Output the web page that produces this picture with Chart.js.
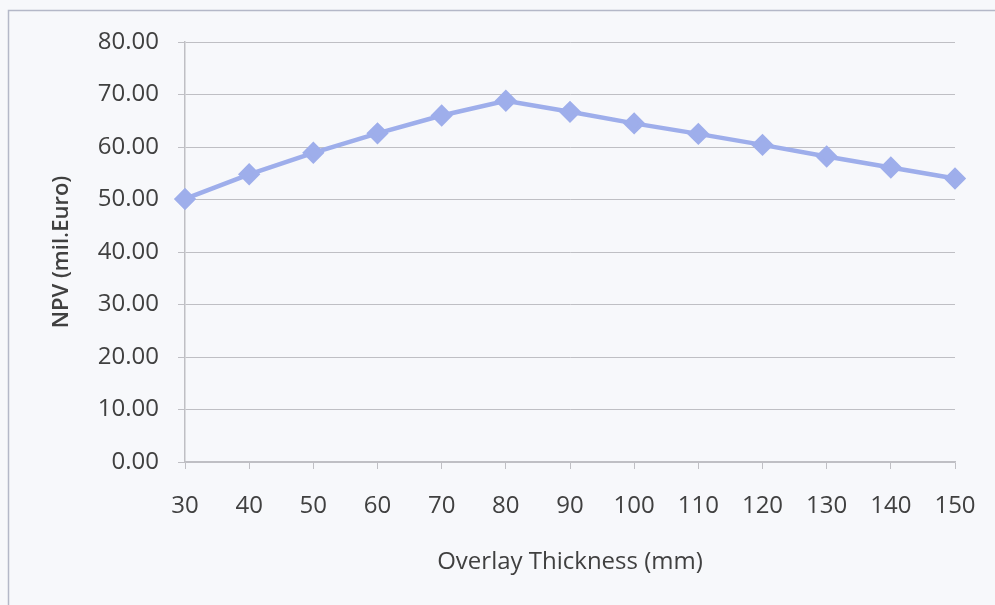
<!DOCTYPE html>
<html>
<head>
<meta charset="utf-8">
<script src="https://cdn.jsdelivr.net/npm/chart.js@4/dist/chart.umd.min.js"></script>
<style>
  html, body { margin: 0; padding: 0; background: #f7f8fb; }
  #wrap { width: 995px; height: 605px; }
</style>
</head>
<body>
<div id="wrap"><canvas id="npvChart" width="995" height="605"></canvas></div>
<script>
// overlay thickness (mm) and NPV (mil.Euro)
var thickness = ['30', '40', '50', '60', '70', '80', '90', '100', '110', '120', '130', '140', '150'];
var npv = [50.1, 54.8, 58.9, 62.6, 66.0, 68.8, 66.7, 64.5, 62.5, 60.4, 58.2, 56.1, 54.0];
var yTicks = [0, 10, 20, 30, 40, 50, 60, 70, 80];

var textColor = '#404040';
var gridColor = '#bfbfc4';
var fontFamily = "'Open Sans', 'Liberation Sans', sans-serif";

// paper background + light frame like the scanned sheet
var paperFrame = {
  id: 'paperFrame',
  beforeDraw: function(chart) {
    var ctx = chart.ctx;
    ctx.save();
    ctx.fillStyle = '#f7f8fb';
    ctx.fillRect(0, 0, chart.width, chart.height);
    ctx.strokeStyle = '#b4b8c8';
    ctx.lineWidth = 1.5;
    ctx.strokeRect(8.5, 10.5, chart.width + 20, chart.height + 20);
    ctx.restore();
  }
};

new Chart(document.getElementById('npvChart'), {
  type: 'line',
  data: {
    labels: thickness,
    datasets: [{
      label: 'NPV',
      data: npv,
      borderColor: '#9eaeeb',
      backgroundColor: '#9eaeeb',
      borderWidth: 4.5,
      pointStyle: 'rectRot',
      pointRadius: 8,
      pointHoverRadius: 8,
      tension: 0
    }]
  },
  options: {
    responsive: false,
    animation: false,
    layout: { padding: { left: 40, right: 40, top: 42, bottom: 20 } },
    plugins: {
      legend: { display: false },
      tooltip: { enabled: false }
    },
    scales: {
      x: {
        offset: false,
        grid: { drawOnChartArea: false, color: gridColor, tickLength: 7, tickColor: gridColor },
        border: { color: gridColor, width: 1.5 },
        ticks: { color: textColor, font: { family: fontFamily, size: 24 }, padding: 23, maxRotation: 0 },
        title: {
          display: true,
          text: 'Overlay Thickness (mm)',
          color: textColor,
          font: { family: fontFamily, size: 24 },
          padding: { top: 10, bottom: 8 }
        },
        afterFit: function(scale) {
          scale.height = 123;
          scale.paddingRight = 0;
        }
      },
      y: {
        min: 0,
        max: 80,
        afterBuildTicks: function(scale) {
          scale.ticks = yTicks.map(function(v) { return { value: v }; });
        },
        grid: { color: gridColor, tickLength: 7, tickColor: gridColor },
        border: { color: gridColor, width: 1.5 },
        ticks: {
          color: textColor,
          font: { family: fontFamily, size: 24 },
          padding: 19,
          callback: function(v) { return Number(v).toFixed(2); }
        },
        title: {
          display: true,
          text: 'NPV (mil.Euro)',
          color: textColor,
          font: { family: fontFamily, size: 22, weight: '600' },
          padding: { top: 9, bottom: 0 }
        },
        afterFit: function(scale) { scale.width = 145; }
      }
    }
  },
  plugins: [paperFrame]
});
</script>
</body>
</html>
